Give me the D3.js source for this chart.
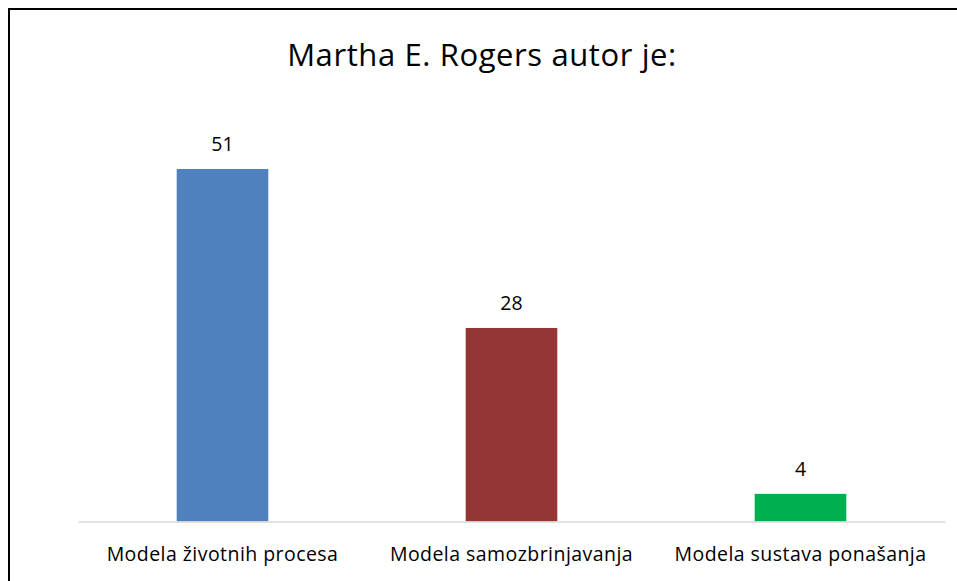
<!DOCTYPE html>
<html><head><meta charset="utf-8">
<script src="https://cdn.jsdelivr.net/npm/d3@7"></script>
<style>body{margin:0;background:#fff}svg{display:block}</style>
</head><body>
<svg id="c" width="957" height="581"></svg>
<script>
const categories = ["Modela životnih procesa", "Modela samozbrinjavanja", "Modela sustava ponašanja"];
const values = [51, 28, 4];
const colors = ["#4F81BD", "#943634", "#00B050"];
const title = "Martha E. Rogers autor je:";

const svg = d3.select("#c");
const font = "'Open Sans', sans-serif";
const left = 78, right = 945, base = 521.5, pxPerUnit = 6.912;

svg.append("rect").attr("x", 9).attr("y", 9).attr("width", 960).attr("height", 590)
  .attr("fill", "none").attr("stroke", "#000").attr("stroke-width", 2);

const x = d3.scaleBand().domain(categories).range([left, right]).paddingInner(0.683).paddingOuter(0.3415);
const y = d3.scaleLinear().domain([0, 60]).range([base, base - 60 * pxPerUnit]);

svg.append("text").attr("x", 482).attr("y", 65.5).attr("text-anchor", "middle")
  .attr("font-family", font).attr("font-size", 31).attr("letter-spacing", 0.6).attr("fill", "#000").text(title);

svg.selectAll("rect.bar").data(values).join("rect").attr("class", "bar")
  .attr("x", (d, i) => x(categories[i])).attr("width", x.bandwidth())
  .attr("y", d => y(d)).attr("height", d => y(0) - y(d))
  .attr("fill", (d, i) => colors[i]);

const axis = d3.axisBottom(x).tickSize(0).tickPadding(0);
const g = svg.append("g").attr("transform", `translate(0,${base})`).call(axis);
g.select(".domain").attr("stroke", "#D9D9D9").attr("stroke-width", 1.5);
g.selectAll(".tick text").attr("font-family", font).attr("font-size", 19.5).attr("letter-spacing", 0.45).attr("fill", "#000")
  .attr("dy", 0).attr("y", 39.5);

svg.selectAll("text.val").data(values).join("text").attr("class", "val")
  .attr("x", (d, i) => x(categories[i]) + x.bandwidth() / 2).attr("y", d => y(d) - 18)
  .attr("text-anchor", "middle").attr("font-family", font).attr("font-size", 19.5).attr("fill", "#000")
  .text(d => d);
</script>
</body></html>
